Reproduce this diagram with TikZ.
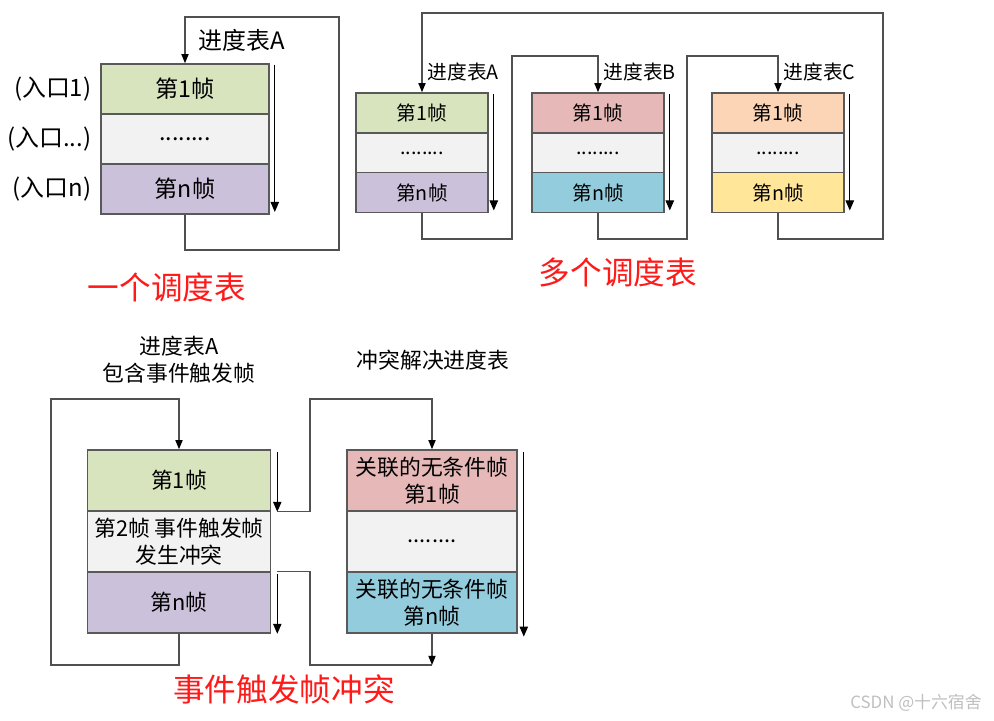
\documentclass[tikz,border=0pt]{standalone}
\usepackage{fontspec}
\setmainfont{Noto Sans CJK SC}
\usepackage{tikz}
\usetikzlibrary{arrows.meta}
\definecolor{cgreen}{HTML}{D7E4BD}
\definecolor{cgray}{HTML}{F2F2F2}
\definecolor{cpurple}{HTML}{CCC1DA}
\definecolor{cpink}{HTML}{E6B9B8}
\definecolor{ccyan}{HTML}{93CDDD}
\definecolor{cpeach}{HTML}{FBD5B5}
\definecolor{cyellow}{HTML}{FFE699}
\definecolor{edge}{HTML}{595959}
\definecolor{wire}{HTML}{505050}
\definecolor{hotred}{HTML}{FF1A1A}

\begin{document}
\begin{tikzpicture}[x=0.025cm,y=-0.025cm,>={Triangle[length=2.3mm,width=1.8mm,color=black]},
  slot/.style={draw=edge,line width=1.1pt,inner sep=0pt,align=center},
  big/.style={slot,minimum width=4.2cm,minimum height=1.25cm,font=\fontsize{16.5}{19}\selectfont},
  small/.style={slot,minimum width=3.3cm,minimum height=1cm,font=\fontsize{14}{17}\selectfont},
  lcell/.style={slot,minimum width=4.575cm,minimum height=1.525cm,font=\fontsize{15.5}{19}\selectfont},
  rcell/.style={slot,minimum width=4.25cm,minimum height=1.525cm,font=\fontsize{15.5}{19}\selectfont},
  flow/.style={draw=wire,line width=0.9pt},
  godown/.style={-{Triangle[length=2.5mm,width=2.1mm]},line width=0.7pt},
  tag/.style={inner sep=1pt,align=center},
  redtitle/.style={text=hotred,font=\fontsize{22.5}{26}\selectfont}]
\useasboundingbox (0,0) rectangle (994,721);

\node[big,fill=cgreen] (a1) at (185,89) {第1帧};
\node[big,fill=cgray] (a2) at (185,139) {........};
\node[big,fill=cpurple] (an) at (185,189) {第n帧};
\draw[godown] ([xshift=0.125cm,yshift=-1pt]a1.north east) -- ([xshift=0.125cm,yshift=2pt]an.south east);
\draw[flow,->] (an.south) |- (339,250) |- (185,17) -- (a1.north);
\node[tag,anchor=west,font=\fontsize{17}{20}\selectfont] (ta) at (197,40) {进度表A};
\node[tag,anchor=east,font=\fontsize{17}{20}\selectfont] (e1) at (93,89) {(入口1)};
\node[tag,anchor=east,font=\fontsize{17}{20}\selectfont] (e2) at (93,139) {(入口...)};
\node[tag,anchor=east,font=\fontsize{17}{20}\selectfont] (e3) at (93,189) {(入口n)};
\node[redtitle] (one) at (167,287) {一个调度表};

\node[small,fill=cgreen] (A1) at (422,113) {第1帧};
\node[small,fill=cgray] (A2) at (422,153) {........};
\node[small,fill=cpurple] (An) at (422,192.5) {第n帧};
\node[small,fill=cpink] (B1) at (598,113) {第1帧};
\node[small,fill=cgray] (B2) at (598,153) {........};
\node[small,fill=ccyan] (Bn) at (598,192.5) {第n帧};
\node[small,fill=cpeach] (C1) at (778,113) {第1帧};
\node[small,fill=cgray] (C2) at (778,153) {........};
\node[small,fill=cyellow] (Cn) at (778,192.5) {第n帧};
\foreach \t in {A,B,C}{
  \draw[godown] ([xshift=0.125cm,yshift=-1pt]\t1.north east) -- ([xshift=0.125cm,yshift=2pt]\t n.south east);
  \node[tag,anchor=west,font=\fontsize{14}{17}\selectfont] (l\t) at ([xshift=0.1cm,yshift=0.5cm]\t1.north) {进度表\t};
}
\draw[flow,->] (An.south) |- (512,239) |- (598,56) -- (B1.north);
\draw[flow,->] (Bn.south) |- (687,239) |- (778,56) -- (C1.north);
\draw[flow,->] (Cn.south) |- (883,239) |- (422,13) -- (A1.north);
\node[redtitle] (many) at (618,272) {多个调度表};

\node[lcell,fill=cgreen] (L1) at (179,480.5) {第1帧};
\node[lcell,fill=cgray] (L2) at (179,541.5) {第2帧 事件触发帧\\发生冲突};
\node[lcell,fill=cpurple] (Ln) at (179,602.5) {第n帧};
\node[rcell,fill=cpink] (R1) at (432,480.5) {关联的无条件帧\\第1帧};
\node[rcell,fill=cgray] (R2) at (432,541.5) {........};
\node[rcell,fill=ccyan] (Rn) at (432,602.5) {关联的无条件帧\\第n帧};
\coordinate (t1) at ([xshift=0.15cm]L1.south east);
\coordinate (t2) at ([xshift=0.15cm]Ln.north east);
\coordinate (m) at (432,665);
\draw[godown] ([xshift=0.15cm,yshift=-2pt]L1.north east) -- (t1);
\draw[godown] ([yshift=-2pt]t2) -- ([xshift=0.15cm]Ln.south east);
\draw[godown] ([xshift=0.15cm,yshift=-2pt]R1.north east) -- ([xshift=0.15cm,yshift=-2pt]Rn.south east);
\draw[flow,->] (Ln.south) |- (51,665) |- (179,399) -- (L1.north);
\draw[flow,->] (t1) -| (310,399) -| (R1.north);
\draw[flow] (t2) -| (310,665) -- (m);
\draw[flow,->] (Rn.south) -- (m);
\node[tag,font=\fontsize{15.5}{19}\selectfont] (tl) at (179,360) {进度表A\\包含事件触发帧};
\node[tag,font=\fontsize{15.5}{19}\selectfont] (tr) at (433,360) {冲突解决进度表};
\node[redtitle] (clash) at (284,689) {事件触发帧冲突};
\node[text=black!25,font=\fontsize{12}{14}\selectfont] (wm) at (916,703) {CSDN @十六宿舍};
\end{tikzpicture}
\end{document}
